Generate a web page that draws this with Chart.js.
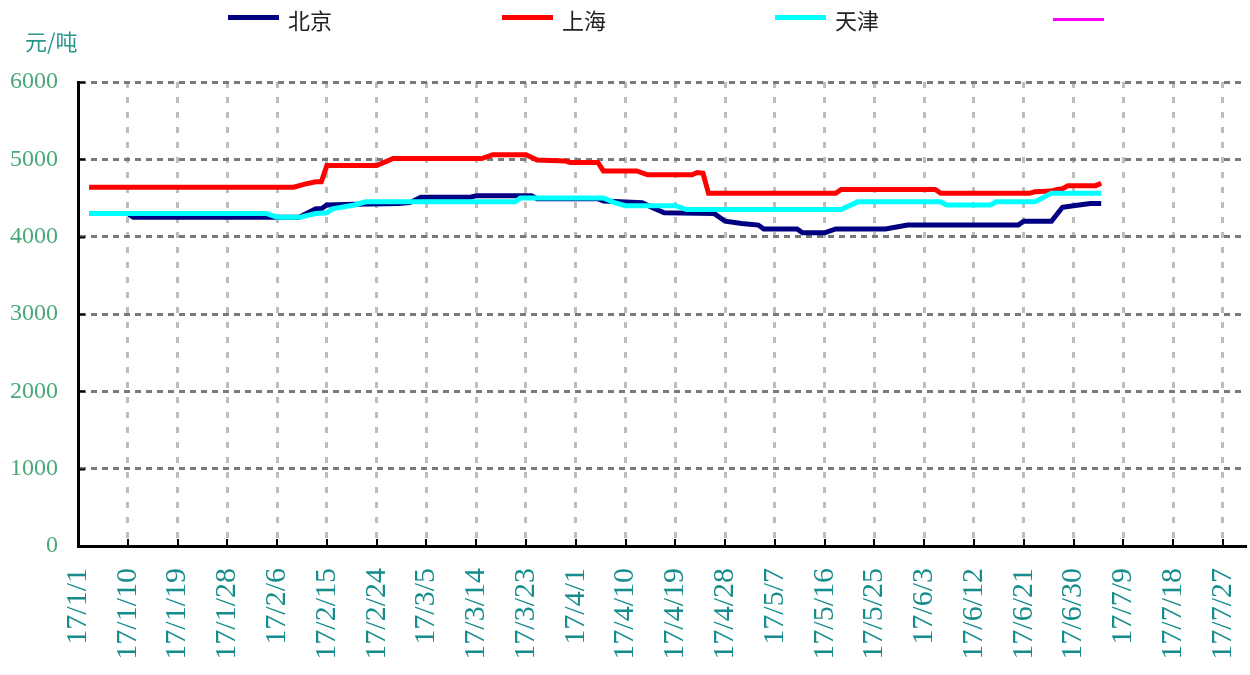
<!DOCTYPE html>
<html>
<head>
<meta charset="utf-8">
<script src="https://cdn.jsdelivr.net/npm/chart.js@4.4.1/dist/chart.umd.min.js"></script>
<style>
  body { margin: 0; background: #fff; }
  #wrap { position: relative; width: 1250px; height: 675px; }
  #unit { position: absolute; left: 25px; top: 24px; font: 22px "Noto Sans CJK SC", sans-serif; color: #2a968c; }
  .leg { position: absolute; top: 4px; height: 26px; font: 22px "Noto Sans CJK SC", sans-serif; color: #222; }
  .leg span.ln { position: absolute; left: 0; width: 51px; }
  .leg span.tx { position: absolute; left: 60px; top: -1px; white-space: nowrap; }
</style>
</head>
<body>
<div id="wrap">
  <canvas id="myChart" width="1250" height="675"></canvas>
  <div id="unit">元/吨</div>
  <div id="legend"></div>
</div>
<script>
// x axis: days from 17/1/1, one tick every 9 days
var tickLabels = ['17/1/1', '17/1/10', '17/1/19', '17/1/28', '17/2/6', '17/2/15', '17/2/24', '17/3/5',
  '17/3/14', '17/3/23', '17/4/1', '17/4/10', '17/4/19', '17/4/28', '17/5/7', '17/5/16', '17/5/25',
  '17/6/3', '17/6/12', '17/6/21', '17/6/30', '17/7/9', '17/7/18', '17/7/27'];
var axisEnd = '7/31';
var yTicks = [0, 1000, 2000, 3000, 4000, 5000, 6000];

// 北京
var bjDates = ['1/3', '1/10', '1/11', '2/10', '2/13', '2/14', '2/15', '2/20', '2/28', '3/2', '3/4', '3/13',
  '3/14', '3/24', '3/25', '4/5', '4/6', '4/13', '4/15', '4/17', '4/26', '4/28', '5/1', '5/4', '5/5',
  '5/11', '5/12', '5/16', '5/18', '5/27', '5/31', '6/20', '6/21', '6/26', '6/28', '6/30', '7/3', '7/5'];
var bjValues = [4300, 4300, 4250, 4250, 4360, 4360, 4410, 4420, 4430, 4440, 4510, 4510,
  4530, 4530, 4490, 4490, 4460, 4440, 4370, 4310, 4300, 4200, 4170, 4150, 4100,
  4100, 4050, 4050, 4100, 4100, 4150, 4150, 4200, 4200, 4380, 4400, 4430, 4430];

// 上海
var shDates = ['1/3', '2/9', '2/11', '2/13', '2/14', '2/15', '2/24', '2/27', '3/15', '3/17', '3/23', '3/25',
  '3/30', '3/31', '4/5', '4/6', '4/12', '4/14', '4/22', '4/23', '4/24', '4/25', '5/18', '5/19', '6/5',
  '6/6', '6/22', '6/23', '6/26', '6/27', '6/28', '6/29', '7/4', '7/5'];
var shValues = [4640, 4640, 4680, 4710, 4710, 4920, 4920, 5010, 5010, 5060, 5060, 4990,
  4980, 4960, 4960, 4850, 4850, 4800, 4800, 4830, 4820, 4560, 4560, 4610, 4610,
  4560, 4560, 4580, 4590, 4610, 4620, 4660, 4660, 4690];

// 天津
var tjDates = ['1/3', '2/4', '2/6', '2/10', '2/13', '2/15', '2/16', '2/20', '2/22', '3/21', '3/22', '4/6',
  '4/8', '4/10', '4/19', '4/21', '5/19', '5/22', '6/6', '6/7', '6/15', '6/16', '6/23', '6/26', '7/5'];
var tjValues = [4300, 4300, 4250, 4250, 4300, 4310, 4360, 4410, 4450, 4450, 4500, 4500,
  4440, 4400, 4400, 4350, 4350, 4450, 4450, 4410, 4410, 4450, 4450, 4560, 4560];

function toDay(md) {
  var p = md.split('/');
  return (Date.UTC(2017, +p[0] - 1, +p[1]) - Date.UTC(2017, 0, 1)) / 86400000;
}
function points(dates, values) {
  return dates.map(function (d, i) { return { x: toDay(d), y: values[i] }; });
}

var series = [
  { label: '北京', color: '#000080', width: 5, dates: bjDates, values: bjValues, order: 2 },
  { label: '上海', color: '#ff0000', width: 5, dates: shDates, values: shValues, order: 1 },
  { label: '天津', color: '#00ffff', width: 5, dates: tjDates, values: tjValues, order: 0 },
  { label: '', color: '#ff00ff', width: 3, dates: [], values: [], order: 3 }
];

// legend above the plot
var legendX = [228, 502, 775, 1053];
var legend = document.getElementById('legend');
series.forEach(function (s, i) {
  var d = document.createElement('div');
  d.className = 'leg';
  d.style.left = legendX[i] + 'px';
  d.innerHTML = '<span class="ln" style="top:' + (13 - s.width / 2 + (s.width < 5 ? 2 : 0)) + 'px;height:' + s.width +
    'px;background:' + s.color + '"></span><span class="tx">' + s.label + '</span>';
  legend.appendChild(d);
});

// small tick marks pointing into the plot
var innerTicks = {
  id: 'innerTicks',
  afterDraw: function (chart) {
    var ctx = chart.ctx, a = chart.chartArea;
    var xs = chart.scales.x, ys = chart.scales.y;
    ctx.save();
    ctx.strokeStyle = '#000';
    ctx.lineWidth = 2;
    ctx.beginPath();
    ys.ticks.forEach(function (t) {
      var y = Math.round(ys.getPixelForValue(t.value)) + 0.5;
      ctx.moveTo(a.left, y); ctx.lineTo(a.left + 7, y);
    });
    xs.ticks.forEach(function (t) {
      var x = Math.round(xs.getPixelForValue(t.value));
      ctx.moveTo(x, a.bottom); ctx.lineTo(x, a.bottom - 7);
    });
    ctx.stroke();
    ctx.restore();
  }
};

function noPad(scale) {
  scale.paddingLeft = 0; scale.paddingRight = 0; scale.paddingTop = 0; scale.paddingBottom = 0;
}

var ctx = document.getElementById('myChart');
var chart = new Chart(ctx, {
  type: 'line',
  data: {
    datasets: series.map(function (s) {
      return {
        label: s.label,
        data: points(s.dates, s.values),
        borderColor: s.color,
        backgroundColor: s.color,
        borderWidth: s.width,
        pointRadius: 0,
        tension: 0,
        fill: false,
        order: s.order
      };
    })
  },
  options: {
    responsive: false,
    animation: false,
    devicePixelRatio: 1,
    layout: { padding: { top: 82, right: 5, left: 0, bottom: 0 } },
    plugins: { legend: { display: false }, tooltip: { enabled: false } },
    scales: {
      x: {
        type: 'linear',
        min: 0,
        max: toDay(axisEnd),
        afterBuildTicks: function (scale) {
          scale.ticks = tickLabels.map(function (l) { return { value: toDay(l.slice(3)) }; });
        },
        afterFit: function (scale) { scale.height = 129; noPad(scale); },
        ticks: {
          autoSkip: false,
          minRotation: 90,
          maxRotation: 90,
          padding: 22,
          color: '#168c8c',
          font: { family: 'Liberation Serif', size: 30 },
          callback: function (v, i) { return tickLabels[i]; }
        },
        grid: { color: '#bdbdbd', lineWidth: 3, drawTicks: false },
        border: { color: '#000', width: 3, dash: [6, 9] }
      },
      y: {
        min: 0,
        max: 6000,
        afterBuildTicks: function (scale) {
          scale.ticks = yTicks.map(function (v) { return { value: v }; });
        },
        afterFit: function (scale) { scale.width = 78; noPad(scale); },
        ticks: {
          padding: 20,
          color: '#48a878',
          font: { family: 'Liberation Serif', size: 24 },
          callback: function (v) { return String(v); }
        },
        grid: { color: '#7a7a7a', lineWidth: 3, drawTicks: false },
        border: { color: '#000', width: 3, dash: [6, 5] }
      }
    }
  },
  plugins: [innerTicks]
});
</script>
</body>
</html>
